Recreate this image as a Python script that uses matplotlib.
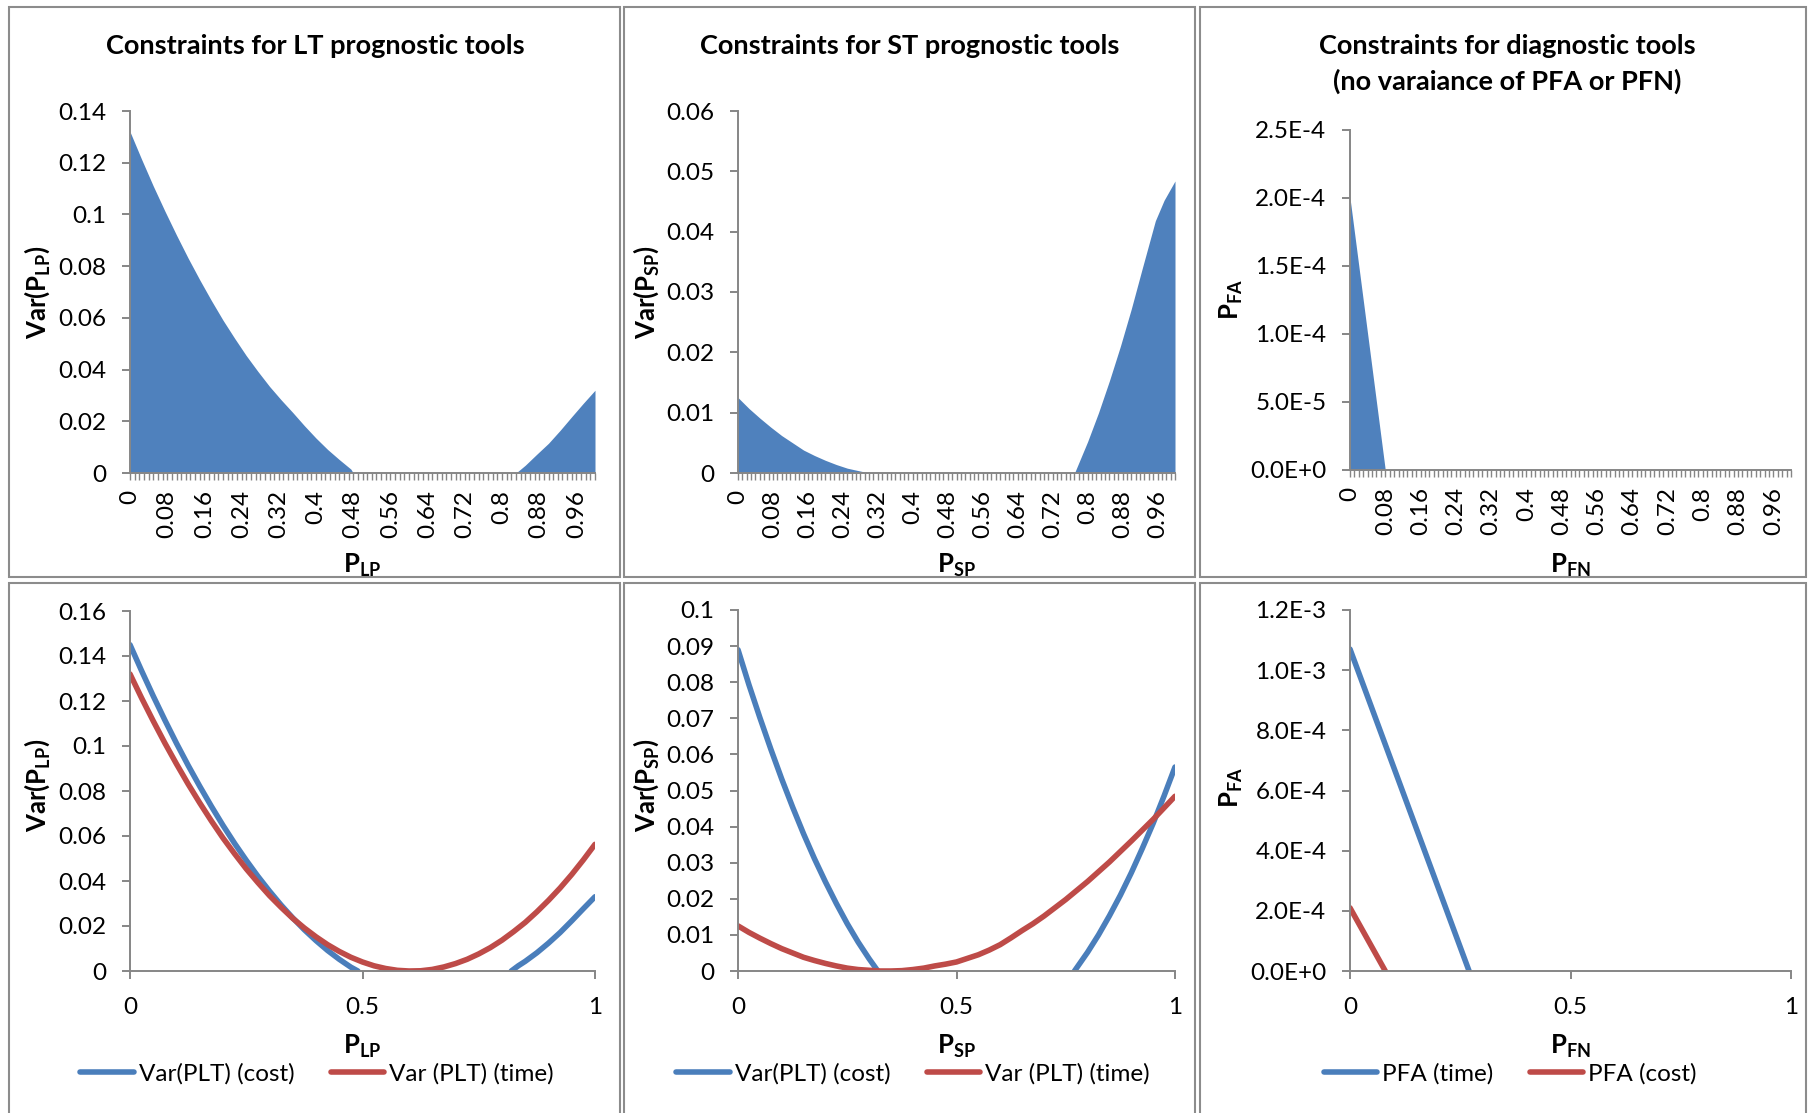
import numpy as np
import matplotlib
matplotlib.use('Agg')
import matplotlib.pyplot as plt
from matplotlib.patches import Rectangle
from matplotlib.lines import Line2D
from matplotlib.ticker import MultipleLocator

#Data section ------------------------------
nan = np.nan

# top row: feasible region (area charts)
lt_x = [0, 0.025, 0.05, 0.075, 0.10, 0.125, 0.15, 0.175, 0.20, 0.225, 0.25, 0.275, 0.30, 0.325,
        0.35, 0.375, 0.40, 0.425, 0.45, 0.475, 0.48, 0.83, 0.85, 0.875, 0.90, 0.925, 0.95, 0.975, 1.00]
lt_var = [0.132, 0.1213, 0.111, 0.1013, 0.092, 0.0831, 0.0747, 0.0667, 0.0591, 0.0521, 0.0454, 0.0393,
          0.0335, 0.0283, 0.0234, 0.0183, 0.0135, 0.0091, 0.0052, 0.0015, 0.0, 0.0, 0.0030, 0.0073,
          0.0115, 0.0165, 0.0218, 0.027, 0.032]

st_x = [0, 0.025, 0.05, 0.075, 0.10, 0.125, 0.15, 0.175, 0.20, 0.225, 0.25, 0.275, 0.30, 0.77,
        0.80, 0.825, 0.85, 0.875, 0.90, 0.925, 0.955, 0.975, 1.00]
st_var = [0.0125, 0.0107, 0.0091, 0.0076, 0.0062, 0.0050, 0.0038, 0.0029, 0.0021, 0.0014, 0.0008,
          0.0004, 0.0, 0.0, 0.0052, 0.0100, 0.0153, 0.0210, 0.0272, 0.0339, 0.0418, 0.0452, 0.0484]

diag_x = [0, 0.08, 1.0]
diag_pfa = [2.0e-4, 0.0, 0.0]

# bottom row: the individual constraint curves
grid = [0, 0.025, 0.05, 0.075, 0.10, 0.125, 0.15, 0.175, 0.20, 0.225, 0.25, 0.275, 0.30, 0.325,
        0.35, 0.375, 0.40, 0.425, 0.45, 0.475, 0.50, 0.525, 0.55, 0.575, 0.60, 0.625, 0.65, 0.675,
        0.70, 0.725, 0.75, 0.775, 0.80, 0.825, 0.85, 0.875, 0.90, 0.925, 0.95, 0.975, 1.00]

lt_cost_x = [0, 0.025, 0.05, 0.075, 0.10, 0.125, 0.15, 0.175, 0.20, 0.225, 0.25, 0.275, 0.30, 0.325,
             0.35, 0.375, 0.40, 0.425, 0.45, 0.475, 0.49, nan,
             0.82, 0.835, 0.85, 0.875, 0.90, 0.925, 0.95, 0.975, 1.00]
lt_cost = [0.145, 0.1334, 0.1222, 0.1115, 0.1012, 0.0914, 0.0821, 0.0732, 0.0647, 0.0567, 0.0492,
           0.0421, 0.0355, 0.0293, 0.0236, 0.0183, 0.0135, 0.0091, 0.0052, 0.0017, 0.0, nan,
           0.0, 0.0023, 0.0043, 0.0081, 0.0124, 0.0171, 0.0223, 0.0277, 0.033]
lt_time = [0.132, 0.1213, 0.1111, 0.1013, 0.0920, 0.0831, 0.0747, 0.0667, 0.0591, 0.0521, 0.0454,
           0.0393, 0.0335, 0.0283, 0.0234, 0.0191, 0.0152, 0.0117, 0.0087, 0.0061, 0.0040, 0.0023,
           0.0011, 0.0003, 0.0, 0.0001, 0.0007, 0.0018, 0.0033, 0.0052, 0.0076, 0.0104, 0.0137,
           0.0175, 0.0216, 0.0263, 0.0314, 0.0369, 0.0429, 0.0494, 0.0563]

st_cost_x = [0, 0.025, 0.05, 0.075, 0.10, 0.125, 0.15, 0.175, 0.20, 0.225, 0.25, 0.275, 0.30, 0.32, nan,
             0.77, 0.80, 0.825, 0.85, 0.875, 0.90, 0.925, 0.95, 0.975, 1.00]
st_cost = [0.089, 0.0793, 0.0702, 0.0615, 0.0532, 0.0454, 0.0380, 0.0311, 0.0247, 0.0187, 0.0131,
           0.0080, 0.0034, 0.0, nan, 0.0, 0.0052, 0.0100, 0.0153, 0.0210, 0.0272, 0.0339, 0.0409,
           0.0485, 0.0565]
st_time = [0.0125, 0.0107, 0.0091, 0.0076, 0.0062, 0.0050, 0.0038, 0.0029, 0.0021, 0.0014, 0.0008,
           0.0004, 0.0002, 0.0, 0.0, 0.0001, 0.0004, 0.0008, 0.0014, 0.0019, 0.0025, 0.0035, 0.0045,
           0.0058, 0.0073, 0.0092, 0.0112, 0.0131, 0.0152, 0.0175, 0.0198, 0.0223, 0.0248, 0.0275,
           0.0302, 0.0331, 0.0360, 0.0390, 0.0420, 0.0452, 0.0484]

diag_time_x = [0, 0.27]
diag_time = [1.07e-3, 0.0]
diag_cost_x = [0, 0.08]
diag_cost = [2.1e-4, 0.0]

lt_yticks = [0, 0.02, 0.04, 0.06, 0.08, 0.1, 0.12, 0.14]
st_yticks = [0, 0.01, 0.02, 0.03, 0.04, 0.05, 0.06]
diag_yticks = [0, 5e-5, 1e-4, 1.5e-4, 2e-4, 2.5e-4]
diag_ylabels = ['0.0E+0', '5.0E-5', '1.0E-4', '1.5E-4', '2.0E-4', '2.5E-4']
lt_yticks2 = [0, 0.02, 0.04, 0.06, 0.08, 0.1, 0.12, 0.14, 0.16]
st_yticks2 = [0, 0.01, 0.02, 0.03, 0.04, 0.05, 0.06, 0.07, 0.08, 0.09, 0.1]
diag_yticks2 = [0, 2e-4, 4e-4, 6e-4, 8e-4, 1e-3, 1.2e-3]
diag_ylabels2 = ['0.0E+0', '2.0E-4', '4.0E-4', '6.0E-4', '8.0E-4', '1.0E-3', '1.2E-3']
cat_labels = [0, 0.08, 0.16, 0.24, 0.32, 0.4, 0.48, 0.56, 0.64, 0.72, 0.8, 0.88, 0.96]

#Style section ------------------------------
plt.rcParams['font.family'] = 'Lato'
plt.rcParams['mathtext.fontset'] = 'custom'
plt.rcParams['mathtext.rm'] = 'Lato'
plt.rcParams['mathtext.bf'] = 'Lato:bold'

BLUE = '#4A7EBB'
RED = '#BE4B48'
FILL = '#4F81BD'
GREY = '#868686'
TICK_FS = 17.5

W, H = 1809, 1113
fig = plt.figure(figsize=(W / 100, H / 100), dpi=100)


def box(x0, y0, x1, y1):
    # pixel box (top-left origin) -> figure fraction
    return [x0 / W, 1 - y1 / H, (x1 - x0) / W, (y1 - y0) / H]


def ftext(x, y, s, **kw):
    fig.text(x / W, 1 - y / H, s, ha='center', va='center', **kw)


def style_axis(ax, ymax, yticks, ylabels=None):
    for side in ['top', 'right']:
        ax.spines[side].set_visible(False)
    for side in ['left', 'bottom']:
        ax.spines[side].set_color(GREY)
        ax.spines[side].set_linewidth(1.4)
    ax.set_xlim(0, 1)
    ax.set_ylim(0, ymax)
    ax.set_yticks(yticks)
    if ylabels is None:
        ylabels = ['{:g}'.format(v) for v in yticks]
    ax.set_yticklabels(ylabels)
    ax.tick_params(axis='y', direction='out', color=GREY, width=1.4, length=6, labelsize=TICK_FS, pad=11)
    ax.set_facecolor('none')


def category_axis(ax):
    ax.set_xticks(cat_labels)
    ax.set_xticklabels(['{:g}'.format(v) for v in cat_labels], rotation=90)
    ax.xaxis.set_minor_locator(MultipleLocator(0.01))
    ax.tick_params(axis='x', which='both', direction='out', color=GREY, width=1.0, length=5,
                   labelsize=TICK_FS, pad=7)


def value_axis(ax):
    ax.set_xticks([0, 0.5, 1])
    ax.set_xticklabels(['0', '0.5', '1'])
    ax.tick_params(axis='x', direction='out', color=GREY, width=1.4, length=6, labelsize=TICK_FS, pad=13)


# chart frames
for x0, x1 in [(9, 620), (624, 1195), (1200, 1806)]:
    fig.patches.append(Rectangle((x0 / W, 1 - 577 / H), (x1 - x0) / W, 570 / H, transform=fig.transFigure,
                                 fill=False, edgecolor='#8C8C8C', lw=1.5))
    fig.patches.append(Rectangle((x0 / W, -0.05), (x1 - x0) / W, 1 - 583 / H + 0.05, transform=fig.transFigure,
                                 fill=False, edgecolor='#8C8C8C', lw=1.5, clip_on=False))

#Top row ------------------------------
ax1 = fig.add_axes(box(130, 111, 595, 473))
ax1.fill_between(lt_x, lt_var, 0, color=FILL, lw=0)
style_axis(ax1, 0.14, lt_yticks)
category_axis(ax1)

ax2 = fig.add_axes(box(738, 111, 1175, 473))
ax2.fill_between(st_x, st_var, 0, color=FILL, lw=0)
style_axis(ax2, 0.06, st_yticks)
category_axis(ax2)

ax3 = fig.add_axes(box(1350, 130, 1791, 470))
ax3.fill_between(diag_x, diag_pfa, 0, color=FILL, lw=0)
style_axis(ax3, 2.5e-4, diag_yticks, diag_ylabels)
category_axis(ax3)

TITLE_FS = 19.5
ftext(315, 46, 'Constraints for LT prognostic tools', fontsize=TITLE_FS, fontweight='bold')
ftext(910, 46, 'Constraints for ST prognostic tools', fontsize=TITLE_FS, fontweight='bold')
ftext(1507, 46, 'Constraints for diagnostic tools', fontsize=TITLE_FS, fontweight='bold')
ftext(1507, 81, '(no varaiance of PFA or PFN)', fontsize=TITLE_FS, fontweight='bold')

#Bottom row ------------------------------
ax4 = fig.add_axes(box(130, 611, 595, 971))
ax4.plot(lt_cost_x, lt_cost, color=BLUE, lw=4, solid_capstyle='round')
ax4.plot(grid, lt_time, color=RED, lw=4, solid_capstyle='round')
style_axis(ax4, 0.16, lt_yticks2)
value_axis(ax4)

ax5 = fig.add_axes(box(738, 610, 1175, 971))
ax5.plot(st_cost_x, st_cost, color=BLUE, lw=4, solid_capstyle='round')
ax5.plot(grid, st_time, color=RED, lw=4, solid_capstyle='round')
style_axis(ax5, 0.1, st_yticks2)
value_axis(ax5)

ax6 = fig.add_axes(box(1350, 610, 1791, 971))
ax6.plot(diag_time_x, diag_time, color=BLUE, lw=4, solid_capstyle='round')
ax6.plot(diag_cost_x, diag_cost, color=RED, lw=4, solid_capstyle='round')
style_axis(ax6, 1.2e-3, diag_yticks2, diag_ylabels2)
value_axis(ax6)

# axis titles
lab = dict(fontsize=18.5)
for cx, cy, s in [(37, 292, r'$\mathbf{Var(P_{LP})}$'), (646, 292, r'$\mathbf{Var(P_{SP})}$'),
                  (1231, 300, r'$\mathbf{P_{FA}}$'), (37, 785, r'$\mathbf{Var(P_{LP})}$'),
                  (646, 785, r'$\mathbf{Var(P_{SP})}$'), (1231, 788, r'$\mathbf{P_{FA}}$')]:
    ftext(cx, cy, s, rotation=90, **lab)
for cx, s in [(362, r'$\mathbf{P_{LP}}$'), (956, r'$\mathbf{P_{SP}}$'), (1570, r'$\mathbf{P_{FN}}$')]:
    ftext(cx, 565, s, **lab)
    ftext(cx, 1046, s, **lab)

# legends
for ax, cx, names in [(ax4, 317, ['Var(PLT) (cost)', 'Var (PLT) (time)']),
                      (ax5, 913, ['Var(PLT) (cost)', 'Var (PLT) (time)']),
                      (ax6, 1510, ['PFA (time)', 'PFA (cost)'])]:
    handles = [Line2D([], [], color=BLUE, lw=4, solid_capstyle='round'),
               Line2D([], [], color=RED, lw=4, solid_capstyle='round')]
    ax.legend(handles, names, loc='center', bbox_to_anchor=(cx / W, 1 - 1074 / H),
              bbox_transform=fig.transFigure, ncol=2, frameon=False, fontsize=17.5,
              handlelength=2.2, handletextpad=0.2, columnspacing=1.5, borderaxespad=0)

plt.savefig('out.png', dpi=100)
